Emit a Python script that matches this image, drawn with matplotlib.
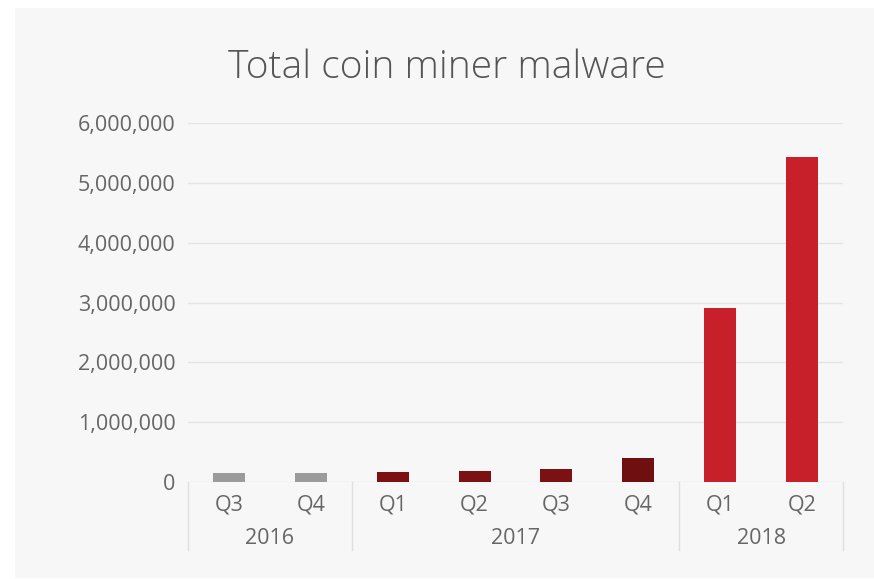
import matplotlib.pyplot as plt
from matplotlib.patches import Rectangle
from matplotlib.ticker import FuncFormatter

quarters = ["Q3", "Q4", "Q1", "Q2", "Q3", "Q4", "Q1", "Q2"]
years = ["2016", "2017", "2018"]
year_counts = [2, 4, 2]
totals = [145000, 150000, 160000, 180000, 210000, 400000, 2900000, 5440000]
bar_colors = ["#9b9b9b", "#9b9b9b", "#7b1113", "#7b1113", "#7b1113", "#6f0f10", "#c8202a", "#c8202a"]

plt.rcParams["font.family"] = ["Open Sans", "DejaVu Sans"]
text_gray = "#666666"

fig = plt.figure(figsize=(8.74, 5.79), dpi=100)
fig.patch.set_facecolor("white")
# light panel behind the chart
panel = Rectangle((15 / 874, 1 - 578 / 579), 1, 570 / 579, transform=fig.transFigure,
                  facecolor="#f7f7f8", edgecolor="none", zorder=-10)
fig.add_artist(panel)

ax = fig.add_axes([188 / 874, 1 - 481.7 / 579, 655 / 874, (481.7 - 123.3) / 579])
ax.set_zorder(5)
ax.set_facecolor("none")

x = list(range(len(totals)))
ax.bar(x, totals, width=0.39, color=bar_colors, zorder=3)

ax.set_xlim(-0.5, len(totals) - 0.5)
ax.set_ylim(0, 6000000)
ax.set_yticks(range(0, 6000001, 1000000))
ax.yaxis.set_major_formatter(FuncFormatter(lambda v, p: f"{int(v):,}"))
ax.grid(axis="y", color="#e4e4e4", linewidth=1, zorder=0)
ax.tick_params(axis="y", length=0, pad=9, labelsize=15.5, labelcolor=text_gray)
ax.tick_params(axis="x", length=0, pad=9, labelsize=15.5, labelcolor=text_gray)
ax.set_xticks(x)
ax.set_xticklabels(quarters)
for s in ax.spines.values():
    s.set_visible(False)

# year group labels and dividers below the axis
start = 0
bounds = [-0.5]
for yr, n in zip(years, year_counts):
    mid = start + (n - 1) / 2
    ax.text(mid, -0.158, yr, transform=ax.get_xaxis_transform(), ha="center", va="center",
            fontsize=15.5, color=text_gray)
    start += n
    bounds.append(start - 0.5)
for b in bounds:
    ax.plot([b, b], [0, -0.19], transform=ax.get_xaxis_transform(), color="#e0e0e0",
            linewidth=1, clip_on=False)

fig.text(447 / 874, 1 - 68 / 579, "Total coin miner malware", ha="center", va="center",
         fontsize=28, color="#555555", fontweight="light")

fig.savefig("out.png", dpi=100)
